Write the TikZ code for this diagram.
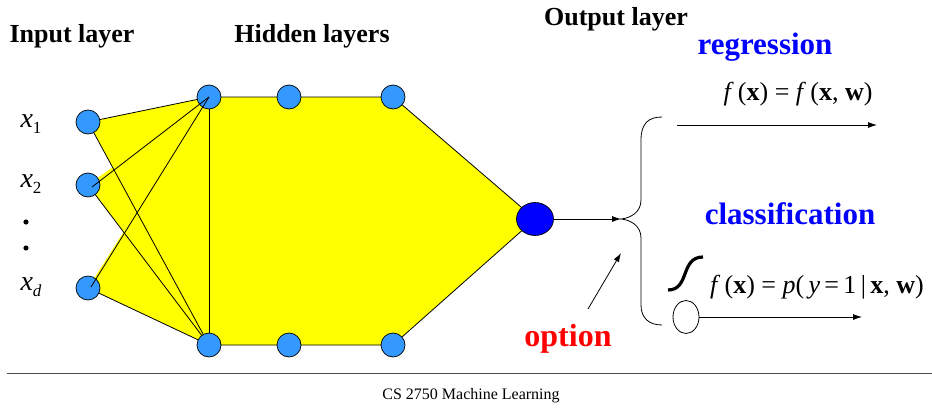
\documentclass[tikz,border=0pt]{standalone}
\usepackage{fontspec}
\setmainfont{Liberation Serif}
\usetikzlibrary{arrows.meta,shapes.geometric}
\definecolor{unitblue}{RGB}{51,153,255}
\definecolor{outblue}{RGB}{0,0,255}
\definecolor{netyellow}{RGB}{255,255,0}
\newcommand{\fsz}[1]{\fontsize{#1}{#1}\selectfont}
\begin{document}
\begin{tikzpicture}[x=1pt,y=-1pt,
  unit/.style={circle,draw=black,line width=0.7pt,fill=unitblue,minimum size=24pt,inner sep=0pt},
  outunit/.style={ellipse,draw=black,line width=0.7pt,fill=outblue,minimum width=37pt,minimum height=33pt,inner sep=0pt},
  wire/.style={line width=0.8pt,black},
  arr/.style={line width=0.8pt,-{Latex[length=9pt,width=6pt]}},
  heading/.style={font=\fsz{26}\bfseries},
  category/.style={font=\fsz{31}\bfseries,text=outblue},
  formula/.style={font=\fsz{26}},
  invar/.style={font=\fsz{28}\itshape}]
\useasboundingbox (0,0) rectangle (932,415);

% unit positions
\coordinate (pi1) at (88,122);
\coordinate (pi2) at (88,185);
\coordinate (pid) at (88,288);
\coordinate (pt1) at (209,97);
\coordinate (pt2) at (289,97);
\coordinate (pt3) at (393,97);
\coordinate (pb1) at (209,345);
\coordinate (pb2) at (289,345);
\coordinate (pb3) at (393,345);
\coordinate (po) at (535,219);

% yellow fill of the network
\fill[netyellow] (pi1) -- (pt1) -- (pb1) -- cycle;
\fill[netyellow] (pi2) -- (pt1) -- (pb1) -- cycle;
\fill[netyellow] (pid) -- (pt1) -- (pb1) -- cycle;
\fill[netyellow] (pt1) -- (pt3) -- (po) -- (pb3) -- (pb1) -- cycle;

% connections
\draw[wire] (pi1) -- (pt1);
\draw[wire] (pi1) -- (pb1);
\draw[wire] (pi2) -- (pb1);
\draw[wire] (pid) -- (pb1);
\draw[wire] (pt1) -- (pb1);
\draw[wire] (pt1) -- (pt3) -- (po) -- (pb3) -- (pb1);

% units
\node[unit] (i1) at (pi1) {};
\node[unit] (i2) at (pi2) {};
\node[unit] (id) at (pid) {};
\node[unit] (h1) at (pt1) {};
\node[unit] (h2) at (pt2) {};
\node[unit] (h3) at (pt3) {};
\node[unit] (g1) at (pb1) {};
\node[unit] (g2) at (pb2) {};
\node[unit] (g3) at (pb3) {};
\node[outunit] (out) at (po) {};

% wires leaving from inside the lower input units
\draw[wire] ([shift={(4,2)}]i2.center) -- (h1.center);
\draw[wire] ([shift={(3,-1)}]id.center) -- (h1.center);

% input labels
\node[invar] (lx1) at (31,124) {x\raisebox{-6pt}{\fsz{17}\upshape 1}};
\node[invar] (lx2) at (31,184) {x\raisebox{-6pt}{\fsz{17}\upshape 2}};
\node[invar] (lxd) at (31,287) {x\raisebox{-6pt}{\fsz{17}d}};
\fill (26,222) circle (2.6pt);
\fill (26,248) circle (2.6pt);

% headings
\node[heading] (hin) at (72,36) {Input layer};
\node[heading] (hhid) at (312,36) {Hidden layers};
\node[heading] (hout) at (616,19) {Output layer};

% output side
\coordinate (tip) at (621,219);
\draw[arr] (out.east) -- (tip);
\draw[line width=0.8pt] (662,117) .. controls (648,117) and (641,124) .. (641,140)
  -- (641,200) .. controls (641,212) and (631,218) .. (tip)
  .. controls (631,220) and (641,226) .. (641,238)
  -- (641,305) .. controls (641,318) and (649,325) .. (662,325);

\node[category] (reg) at (765,47) {regression};
\node[formula] (freg) at (798,94) {\itshape f\;\upshape(\textbf{x}) = \itshape f\;\upshape(\textbf{x}, \textbf{w})};
\coordinate (rs) at (677,125);
\coordinate (re) at (877,125);
\draw[arr] (rs) -- (re);

\node[category] (cls) at (790,214) {classification};
\draw[line width=3.2pt] (668,290) .. controls (690,290) and (680,257) .. (703,257);
\node[formula] (fcls) at (817,287) {\itshape f\;\upshape(\textbf{x}) = \itshape p\upshape(\,\itshape y\upshape\,=\,1\,|\,\textbf{x}, \textbf{w})};
\node[ellipse,draw=black,line width=0.8pt,minimum width=26pt,minimum height=33pt,inner sep=0pt] (sig) at (686,317) {};
\coordinate (ce) at (862,317);
\draw[arr] (sig.east) -- (ce);

\node[font=\fsz{32}\bfseries,text=red] (opt) at (568,339) {option};
\coordinate (os) at (588,309);
\coordinate (oe) at (621,253);
\draw[arr] (os) -- (oe);

% footer
\coordinate (fl) at (7,373);
\coordinate (fr) at (932,373);
\draw[line width=0.9pt,black!70] (fl) -- (fr);
\node[font=\fsz{16}] (foot) at (471,396) {CS 2750 Machine Learning};
\end{tikzpicture}
\end{document}
